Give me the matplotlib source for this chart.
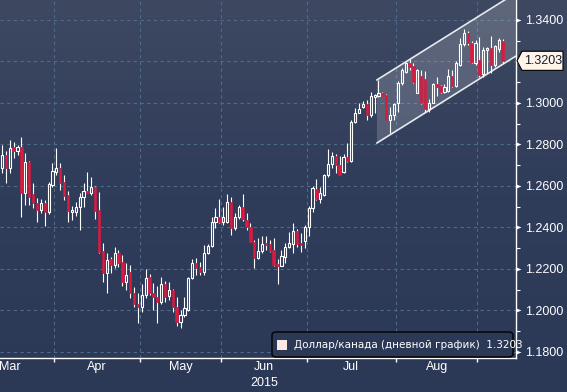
import numpy as np
import pandas as pd
import matplotlib
matplotlib.use('Agg')
import matplotlib.pyplot as plt
from matplotlib import font_manager
from matplotlib.patches import Polygon, Rectangle, FancyBboxPatch
from matplotlib.colors import LinearSegmentedColormap
from matplotlib.ticker import FuncFormatter, MultipleLocator
from matplotlib.transforms import blended_transform_factory

# дневные свечи USD/CAD, первая — 12 марта 2015
start_date = '2015-03-12'
opens = [1.2687, 1.2749, 1.2687, 1.2788, 1.2769, 1.2788, 1.2566, 1.2716, 1.2561, 1.2518,
         1.2484, 1.2518, 1.2475, 1.2605, 1.2667, 1.2687, 1.2619, 1.2557, 1.2475, 1.2475,
         1.2499, 1.2547, 1.2576, 1.2566, 1.2595, 1.2484, 1.2287, 1.2181, 1.2248, 1.2219,
         1.2277, 1.2234, 1.2137, 1.2186, 1.2084, 1.2031, 1.2017, 1.2075, 1.2161, 1.2084,
         1.2065, 1.2041, 1.2128, 1.2070, 1.2099, 1.2017, 1.1946, 1.1978, 1.2002, 1.2157,
         1.2229, 1.2210, 1.2186, 1.2277, 1.2311, 1.2426, 1.2450, 1.2426, 1.2426, 1.2523,
         1.2398, 1.2450, 1.2499, 1.2436, 1.2402, 1.2330, 1.2253, 1.2287, 1.2325, 1.2320,
         1.2291, 1.2224, 1.2214, 1.2258, 1.2306, 1.2320, 1.2383, 1.2325, 1.2335, 1.2402,
         1.2494, 1.2586, 1.2537, 1.2557, 1.2653, 1.2706, 1.2745, 1.2701, 1.2667, 1.2740,
         1.2720, 1.2908, 1.2952, 1.2981, 1.2995, 1.2942, 1.3029, 1.3034, 1.3048, 1.3039,
         1.2918, 1.2942, 1.3000, 1.3096, 1.3149, 1.3193, 1.3178, 1.3048, 1.3130, 1.3116,
         1.2971, 1.3000, 1.3092, 1.3082, 1.3053, 1.3058, 1.3130, 1.3082, 1.3183, 1.3284,
         1.3337, 1.3289, 1.3193, 1.3207, 1.3140, 1.3255, 1.3265, 1.3183, 1.3260, 1.3299]
highs = [1.2798, 1.2769, 1.2822, 1.2812, 1.2798, 1.2836, 1.2759, 1.2720, 1.2614, 1.2542,
         1.2537, 1.2532, 1.2619, 1.2711, 1.2783, 1.2711, 1.2653, 1.2576, 1.2504, 1.2523,
         1.2566, 1.2614, 1.2667, 1.2643, 1.2600, 1.2571, 1.2325, 1.2277, 1.2258, 1.2306,
         1.2291, 1.2267, 1.2229, 1.2219, 1.2113, 1.2084, 1.2128, 1.2200, 1.2176, 1.2132,
         1.2118, 1.2161, 1.2142, 1.2137, 1.2104, 1.2065, 1.2002, 1.2065, 1.2161, 1.2248,
         1.2253, 1.2234, 1.2316, 1.2320, 1.2450, 1.2494, 1.2537, 1.2499, 1.2561, 1.2547,
         1.2470, 1.2508, 1.2561, 1.2470, 1.2422, 1.2340, 1.2349, 1.2359, 1.2359, 1.2340,
         1.2349, 1.2248, 1.2291, 1.2325, 1.2378, 1.2422, 1.2393, 1.2373, 1.2412, 1.2504,
         1.2600, 1.2634, 1.2595, 1.2658, 1.2778, 1.2764, 1.2754, 1.2745, 1.2754, 1.2807,
         1.2918, 1.2976, 1.3000, 1.3010, 1.3014, 1.3053, 1.3043, 1.3111, 1.3053, 1.3043,
         1.2981, 1.3000, 1.3106, 1.3169, 1.3198, 1.3212, 1.3193, 1.3164, 1.3159, 1.3154,
         1.3019, 1.3096, 1.3125, 1.3087, 1.3092, 1.3164, 1.3159, 1.3203, 1.3313, 1.3357,
         1.3347, 1.3299, 1.3304, 1.3318, 1.3270, 1.3270, 1.3323, 1.3280, 1.3313, 1.3308]
lows = [1.2663, 1.2614, 1.2663, 1.2735, 1.2749, 1.2450, 1.2508, 1.2508, 1.2494, 1.2426,
        1.2470, 1.2407, 1.2465, 1.2595, 1.2653, 1.2581, 1.2532, 1.2426, 1.2436, 1.2455,
        1.2388, 1.2499, 1.2566, 1.2557, 1.2441, 1.2277, 1.2137, 1.2084, 1.2181, 1.2205,
        1.2210, 1.2118, 1.2099, 1.2060, 1.2017, 1.1940, 1.1993, 1.2060, 1.2075, 1.2002,
        1.1940, 1.2031, 1.2041, 1.2050, 1.1993, 1.1926, 1.1917, 1.1968, 1.1997, 1.2152,
        1.2171, 1.2171, 1.2171, 1.2272, 1.2306, 1.2398, 1.2422, 1.2412, 1.2422, 1.2364,
        1.2388, 1.2441, 1.2431, 1.2388, 1.2330, 1.2205, 1.2248, 1.2277, 1.2291, 1.2282,
        1.2214, 1.2128, 1.2214, 1.2229, 1.2301, 1.2277, 1.2306, 1.2282, 1.2301, 1.2359,
        1.2475, 1.2532, 1.2518, 1.2552, 1.2643, 1.2687, 1.2663, 1.2653, 1.2663, 1.2716,
        1.2716, 1.2904, 1.2952, 1.2976, 1.2918, 1.2933, 1.2952, 1.3029, 1.3034, 1.2918,
        1.2857, 1.2918, 1.2957, 1.3087, 1.3145, 1.3159, 1.3096, 1.3048, 1.2995, 1.2957,
        1.2957, 1.3000, 1.3034, 1.3048, 1.3048, 1.3053, 1.3077, 1.3077, 1.3178, 1.3275,
        1.3280, 1.3193, 1.3183, 1.3125, 1.3125, 1.3145, 1.3145, 1.3174, 1.3246, 1.3193]
closes = [1.2749, 1.2687, 1.2783, 1.2769, 1.2788, 1.2566, 1.2716, 1.2547, 1.2518, 1.2484,
          1.2518, 1.2475, 1.2610, 1.2672, 1.2687, 1.2614, 1.2552, 1.2480, 1.2484, 1.2499,
          1.2547, 1.2576, 1.2566, 1.2595, 1.2480, 1.2282, 1.2181, 1.2243, 1.2219, 1.2277,
          1.2229, 1.2137, 1.2171, 1.2084, 1.2031, 1.2017, 1.2075, 1.2157, 1.2084, 1.2065,
          1.2041, 1.2128, 1.2065, 1.2099, 1.2017, 1.1946, 1.1978, 1.2012, 1.2157, 1.2229,
          1.2205, 1.2186, 1.2277, 1.2311, 1.2426, 1.2450, 1.2426, 1.2450, 1.2523, 1.2398,
          1.2450, 1.2499, 1.2441, 1.2402, 1.2330, 1.2253, 1.2287, 1.2320, 1.2316, 1.2287,
          1.2219, 1.2214, 1.2263, 1.2306, 1.2325, 1.2383, 1.2320, 1.2316, 1.2402, 1.2494,
          1.2590, 1.2537, 1.2566, 1.2653, 1.2706, 1.2745, 1.2701, 1.2653, 1.2740, 1.2720,
          1.2908, 1.2952, 1.2971, 1.2995, 1.2942, 1.3034, 1.3039, 1.3048, 1.3034, 1.2918,
          1.2942, 1.2995, 1.3096, 1.3159, 1.3193, 1.3174, 1.3101, 1.3159, 1.3000, 1.2971,
          1.3000, 1.3092, 1.3077, 1.3053, 1.3077, 1.3130, 1.3082, 1.3193, 1.3284, 1.3337,
          1.3289, 1.3198, 1.3289, 1.3135, 1.3255, 1.3265, 1.3183, 1.3275, 1.3304, 1.3203]

months = ['Mar', 'Apr', 'May', 'Jun', 'Jul', 'Aug']
month_numbers = [3, 4, 5, 6, 7, 8, 9]
year_label = '2015'
year_under = 'Jun'
series_name = 'Доллар/канада (дневной график)'

# восходящий канал (в номерах торговых дней)
channel_start = 96.6
channel_upper = 1.3111
channel_lower = 1.2807
channel_slope = 0.00117

y_min, y_max = 1.1771, 1.3496
x_min, x_max = -0.52, 132.3

available = {f.name for f in font_manager.fontManager.ttflist}
axis_font = 'Liberation Sans Narrow' if 'Liberation Sans Narrow' in available else 'Liberation Sans'
axis_size = 11 if axis_font == 'Liberation Sans Narrow' else 9

o = np.array(opens)
h = np.array(highs)
l = np.array(lows)
c = np.array(closes)
x = np.arange(len(c))
dates = pd.bdate_range(start_date, periods=len(c))

fig = plt.figure(figsize=(5.67, 3.92), dpi=100)

# фон с вертикальным градиентом
bg = fig.add_axes([0, 0, 1, 1])
bg_cmap = LinearSegmentedColormap.from_list('bg', ['#2b3856', '#2f3c5a', '#3e4861'])
bg.imshow(np.linspace(0, 1, 256).reshape(-1, 1), aspect='auto', cmap=bg_cmap,
          origin='lower', extent=[0, 1, 0, 1])
bg.axis('off')

ax = fig.add_axes([0, 34 / 392, 515.5 / 567, 358 / 392])
ax.set_facecolor('none')
ax.set_xlim(x_min, x_max)
ax.set_ylim(y_min, y_max)

# свечи
body_lo = np.minimum(o, c)
body_hi = np.maximum(o, c)
up = c >= o
ax.vlines(x, body_hi, h, color='white', lw=0.8, zorder=3)
ax.vlines(x, l, body_lo, color='white', lw=0.8, zorder=3)
heights = np.maximum(body_hi - body_lo, 0.0003)
ax.bar(x[up], heights[up], 0.55, bottom=body_lo[up], facecolor='none',
       edgecolor='white', lw=0.8, zorder=4)
ax.bar(x[~up], heights[~up], 0.62, bottom=body_lo[~up], color='#dc1a40',
       edgecolor='#dc1a40', lw=0.4, zorder=4)

# канал
x_end = x_max
shift = channel_slope * (x_end - channel_start)
ax.add_patch(Polygon([(channel_start, channel_lower), (channel_start, channel_upper),
                      (x_end, channel_upper + shift), (x_end, channel_lower + shift)],
                     closed=True, facecolor='white', alpha=0.17, edgecolor='none', zorder=2))
ax.plot([channel_start, x_end], [channel_upper, channel_upper + shift], color='#e6e9ef', lw=1.2, zorder=2.5)
ax.plot([channel_start, x_end], [channel_lower, channel_lower + shift], color='#e6e9ef', lw=1.2, zorder=2.5)

# ось X: границы месяцев и подписи посередине
bounds = [np.busday_count(start_date, f'2015-{m:02d}-01') - 0.5 for m in month_numbers]
centers = [(a + b) / 2 for a, b in zip(bounds[:-1], bounds[1:])]
ax.set_xticks(bounds[1:])
ax.set_xticklabels([])
ax.set_xticks(centers, minor=True)
ax.set_xticklabels(months, minor=True, fontfamily=axis_font, fontsize=axis_size, color='white')
ax.tick_params(axis='x', which='major', direction='out', length=3, width=1, color='white')
ax.tick_params(axis='x', which='minor', length=0, pad=2.5)
ax.text(centers[months.index(year_under)], -0.052, year_label,
        transform=blended_transform_factory(ax.transData, ax.transAxes),
        ha='center', va='top', fontfamily=axis_font, fontsize=axis_size, color='white')

# ось Y справа
ax.yaxis.tick_right()
ax.yaxis.set_major_locator(MultipleLocator(0.02))
ax.yaxis.set_minor_locator(MultipleLocator(0.01))
ax.yaxis.set_major_formatter(FuncFormatter(lambda v, p: '' if abs(v - c[-1]) < 0.005 else f'{v:.4f}'))
ax.tick_params(axis='y', which='major', length=0, pad=7, labelsize=axis_size, labelcolor='white')
ax.tick_params(axis='y', which='minor', length=3, width=0.8, color='white')
for lab in ax.get_yticklabels():
    lab.set_fontfamily(axis_font)
yt = [t for t in ax.get_yticks() if y_min < t < y_max]
pennant = [(0, 0.8), (0, -0.8), (2, 0)]
ax.scatter([1.0] * len(yt), yt, marker=pennant, s=52, color='white', lw=0,
           transform=blended_transform_factory(ax.transAxes, ax.transData), clip_on=False, zorder=5)

ax.grid(True, which='major', color='#4f6b89', linestyle=(0, (3, 3)), linewidth=0.8)
ax.set_axisbelow(True)
for side in ['left', 'top']:
    ax.spines[side].set_visible(False)
for side in ['right', 'bottom']:
    ax.spines[side].set_color('white')
    ax.spines[side].set_linewidth(1)

# метка последней цены
tag = blended_transform_factory(fig.transFigure, ax.transData)
p = c[-1]
hh = 0.0046
fig.add_artist(Polygon([(517 / 567, p), (522 / 567, p + hh), (563 / 567, p + hh),
                        (563 / 567, p - hh), (522 / 567, p - hh)], closed=True,
                       facecolor='#fff4ea', edgecolor='black', lw=0.8, transform=tag))
fig.text(543 / 567, p, f'{p:.4f}', transform=tag, ha='center', va='center',
         fontfamily=axis_font, fontsize=axis_size, color='#141a2e')

# легенда
fig.add_artist(FancyBboxPatch((272 / 567, 1 - 357 / 392), 241 / 567, 25 / 392,
                              boxstyle='round,pad=0,rounding_size=0.008', transform=fig.transFigure,
                              facecolor='#2b3856', edgecolor='black', lw=1))
fig.add_artist(Rectangle((277 / 567, 1 - 350 / 392), 10 / 567, 10 / 392,
                         transform=fig.transFigure, facecolor='#fde9e4', edgecolor='none'))
fig.text(294 / 567, 1 - 345 / 392, f'{series_name}  {c[-1]:.4f}', ha='left', va='center',
         fontfamily='DejaVu Sans', fontsize=7.5, color='white')

fig.savefig('out.png', dpi=100, facecolor=fig.get_facecolor())
